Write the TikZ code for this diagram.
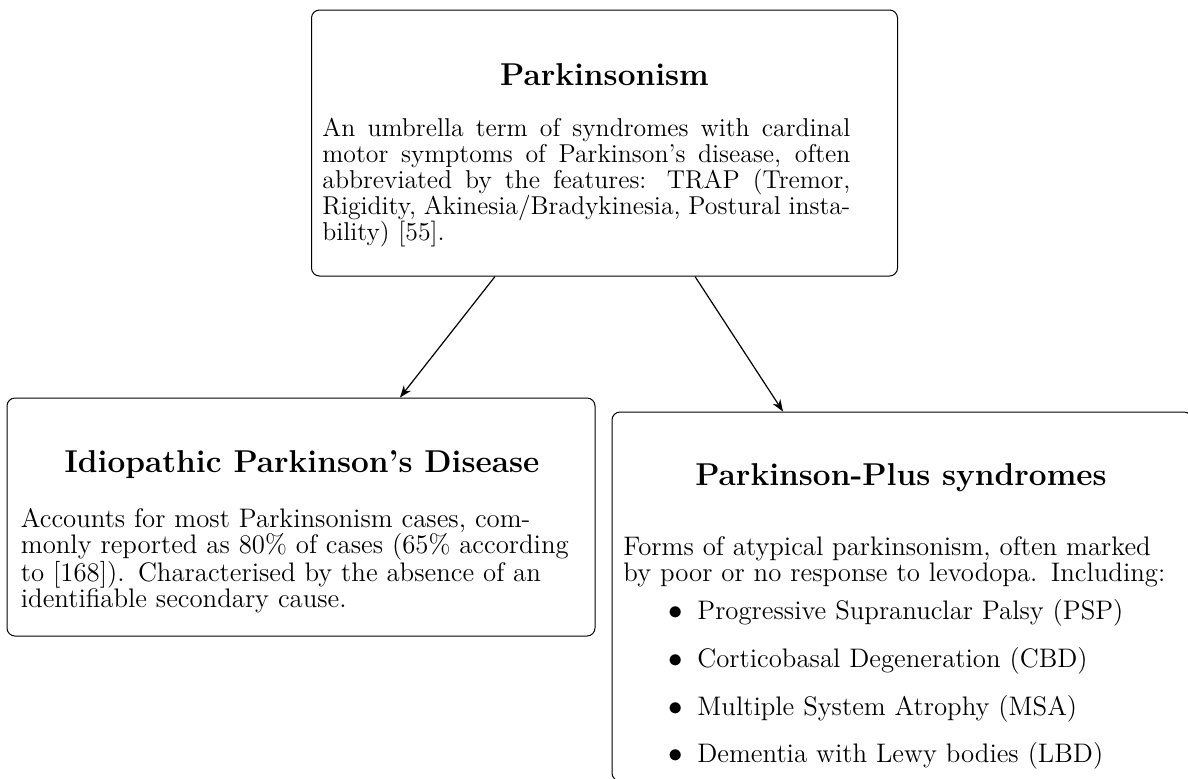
\documentclass[tikz,border=0pt]{standalone}
\usepackage{fontspec}
\usetikzlibrary{arrows.meta}
% one justified line, 264pt wide
\newcommand{\jline}[1]{\leavevmode\hbox to 264pt{\spaceskip=0pt\xspaceskip=0pt #1}}
\begin{document}
\begin{tikzpicture}[x=0.5pt,y=-0.5pt,
  box/.style={draw, rounded corners=4pt, line width=0.5pt, inner sep=0pt},
  head/.style={font=\fontsize{15.8}{18}\selectfont\bfseries, inner sep=0pt, anchor=base},
  body/.style={font=\fontsize{13.4}{13}\selectfont, inner sep=0pt, anchor=base west,
               align=left, text width=#1},
  body/.default=320pt,
  dot/.style={font=\fontsize{13.4}{13}\selectfont, inner sep=0pt, anchor=base},
  conn/.style={-{Stealth[length=6pt,width=4.5pt]}, line width=0.6pt}]
\useasboundingbox (0,0) rectangle (1188,778);
\clip (0,0) rectangle (1188,778);

% boxes
\node[box, minimum width=293pt, minimum height=133pt] (park) at (604.5,143) {};
\node[box, minimum width=294pt, minimum height=119pt] (idio) at (301,517) {};
\node[box, minimum width=290pt, minimum height=184.5pt] (plus) at (902,596.5) {};

% top box
\node[head] (parkh) at (604.5,85) {Parkinsonism};
\node[body=270pt, font=\fontsize{12.9}{13}\selectfont] (parkb) at (322,136) {%
\jline{An umbrella term of syndromes with cardinal}\\
\jline{motor symptoms of Parkinson’s disease, often}\\
\jline{abbreviated by the features: TRAP (Tremor,}\\
\jline{Rigidity, Akinesia/Bradykinesia, Postural insta-}\\
bility) [55].};

% left box
\node[head] (idioh) at (302,472) {Idiopathic Parkinson’s Disease};
\node[body] (idiob) at (20.5,527) {%
Accounts for most Parkinsonism cases, com-\\
monly reported as 80\% of cases (65\% according\\
to [168]). Characterised by the absence of an\\
identifiable secondary cause.};

% right box
\node[head] (plush) at (901,485) {Parkinson-Plus syndromes};
\node[body] (plusb) at (623,555) {%
Forms of atypical parkinsonism, often marked\\
by poor or no response to levodopa. Including:};
\node[dot] (d1) at (676,619) {$\bullet$};
\node[body] (i1) at (697,619) {Progressive Supranuclar Palsy (PSP)};
\node[dot] (d2) at (676,667) {$\bullet$};
\node[body] (i2) at (697,667) {Corticobasal Degeneration (CBD)};
\node[dot] (d3) at (676,715) {$\bullet$};
\node[body] (i3) at (697,715) {Multiple System Atrophy (MSA)};
\node[dot] (d4) at (676,762) {$\bullet$};
\node[body] (i4) at (697,762) {Dementia with Lewy bodies (LBD)};

% connectors
\draw[conn] ([xshift=-54.75pt]park.south) -- ([xshift=49.5pt]idio.north);
\draw[conn] ([xshift=45.25pt]park.south) -- ([xshift=-59.5pt]plus.north);
\end{tikzpicture}
\end{document}
